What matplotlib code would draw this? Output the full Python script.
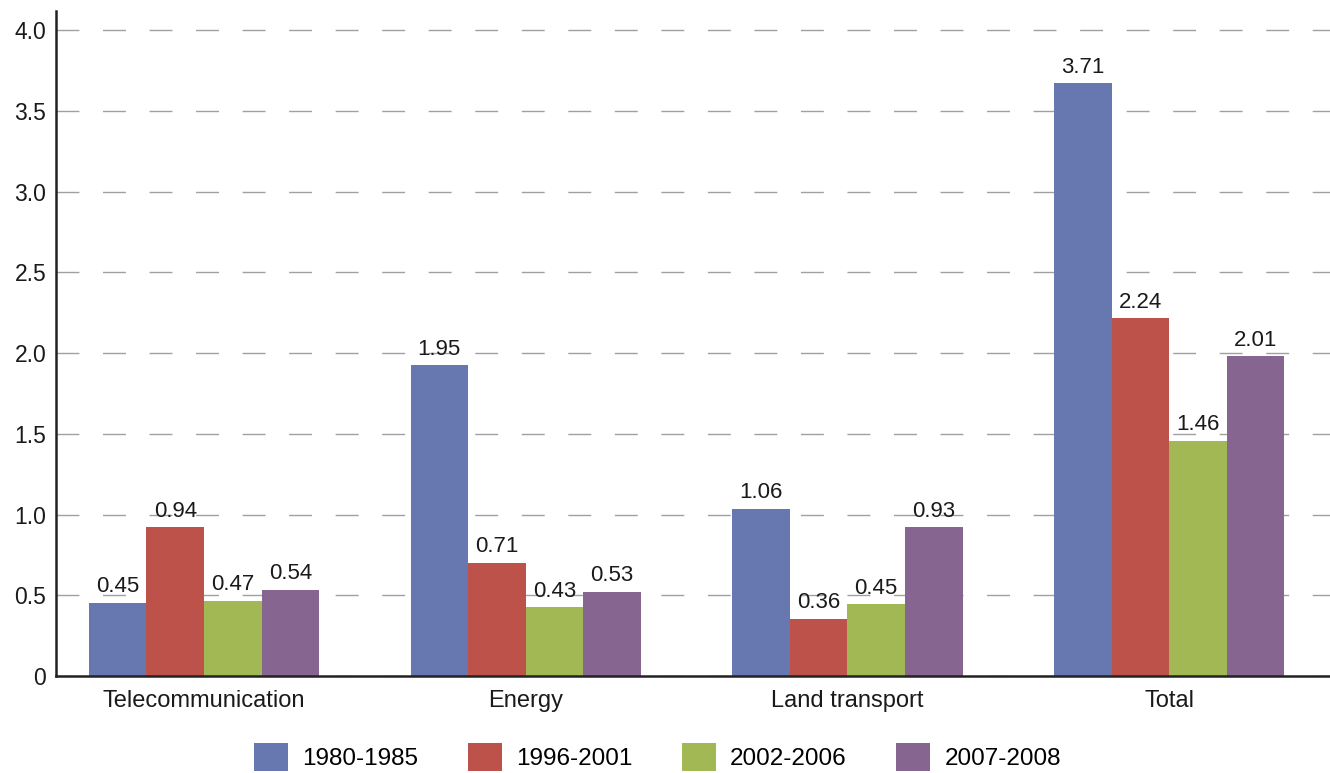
import numpy as np
import matplotlib
matplotlib.use("Agg")
from matplotlib import pyplot as plt
from matplotlib.ticker import FuncFormatter

plt.rcParams['font.family'] = ['Liberation Sans', 'DejaVu Sans']

categories = ['Telecommunication', 'Energy', 'Land transport', 'Total']
periods = ['1980-1985', '1996-2001', '2002-2006', '2007-2008']

# bar heights as drawn
heights = [
    [0.455, 1.925, 1.035, 3.67],   # 1980-1985
    [0.92, 0.70, 0.355, 2.215],    # 1996-2001
    [0.465, 0.425, 0.445, 1.455],  # 2002-2006
    [0.535, 0.52, 0.92, 1.98],     # 2007-2008
]
# printed value labels
labels = [
    ['0.45', '1.95', '1.06', '3.71'],
    ['0.94', '0.71', '0.36', '2.24'],
    ['0.47', '0.43', '0.45', '1.46'],
    ['0.54', '0.53', '0.93', '2.01'],
]
colors = ['#6678af', '#bd524b', '#a2b854', '#876591']

fig = plt.figure(figsize=(13.3, 7.73), dpi=100)
ax = fig.add_axes([56 / 1330, 97 / 773, 1 - 56 / 1330, 665 / 773])

x = np.arange(len(categories))
w = 0.179
for i, (p, c) in enumerate(zip(periods, colors)):
    xs = x + (i - 1.5) * w
    bars = ax.bar(xs, heights[i], w, color=c, label=p, zorder=2)
    for b, t in zip(bars, labels[i]):
        ax.annotate(t, (b.get_x() + b.get_width() / 2, b.get_height()),
                    xytext=(0, 4), textcoords='offset points',
                    ha='center', va='bottom', fontsize=16, color='#1a1a1a',
                    zorder=3)

ax.set_xlim(-0.46, 3.5)
ax.set_ylim(0, 4.118)
ax.set_yticks(np.arange(0, 4.01, 0.5))
ax.yaxis.set_major_formatter(FuncFormatter(lambda v, _: '0' if v == 0 else f'{v:.1f}'))
ax.set_xticks(x)
ax.set_xticklabels(categories)

ax.grid(axis='y', color='#a0a0a0', linewidth=1.0, linestyle=(0, (16.5, 17)), zorder=1)
ax.grid(axis='x', visible=False)
ax.set_axisbelow(True)

for s in ['top', 'right']:
    ax.spines[s].set_visible(False)
ax.spines['left'].set_linewidth(1.8)
ax.spines['bottom'].set_linewidth(1.8)
ax.spines['left'].set_color('#222222')
ax.spines['bottom'].set_color('#222222')
ax.tick_params(axis='y', length=0, pad=7, labelsize=16.5, labelcolor='#1a1a1a')
ax.tick_params(axis='x', length=0, pad=10, labelsize=17, labelcolor='#1a1a1a')
ax.set_facecolor('white')

fig.legend(loc='center', bbox_to_anchor=(0.4944, 16 / 773), ncol=4, frameon=False,
           fontsize=17.5, handlelength=1.4, handleheight=1.36, handletextpad=0.58,
           columnspacing=2.04, borderpad=0)

fig.savefig('out.png', dpi=100, facecolor='white')
